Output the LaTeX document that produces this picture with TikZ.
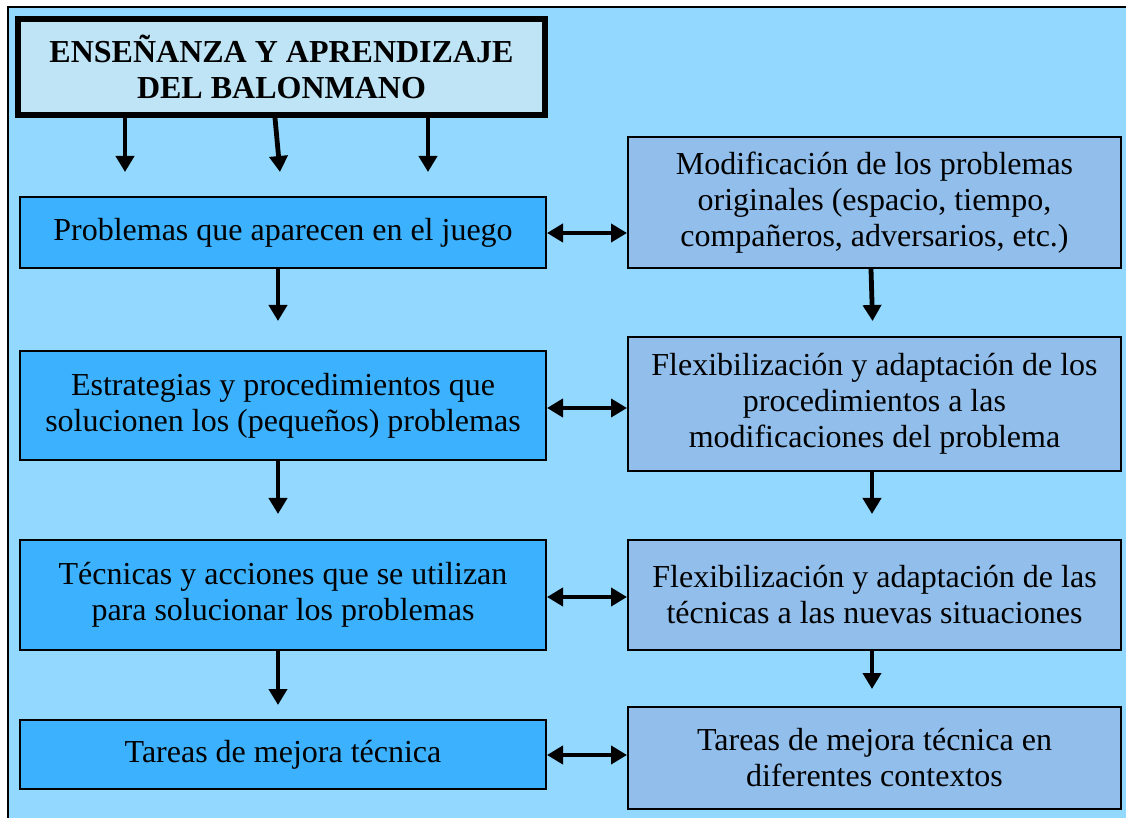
\documentclass[tikz,border=0pt]{standalone}
\usepackage{fontspec}
\setmainfont{Liberation Serif}
\usetikzlibrary{arrows.meta}
\definecolor{bgblue}{RGB}{147,217,255}
\definecolor{leftblue}{RGB}{60,178,255}
\definecolor{rightblue}{RGB}{145,190,235}
\definecolor{titleblue}{RGB}{190,228,245}
\tikzset{
  lbox/.style={draw=black, line width=1pt, fill=leftblue, minimum width=263pt, align=center, inner sep=0pt, font=\fontsize{16}{18}\selectfont},
  rbox/.style={draw=black, line width=1pt, fill=rightblue, minimum width=246.5pt, align=center, inner sep=0pt, font=\fontsize{16}{18}\selectfont},
  tbox/.style={draw=black, line width=3pt, fill=titleblue, minimum width=263.5pt, minimum height=48pt, align=center, inner sep=0pt, font=\fontsize{16}{18}\selectfont\bfseries},
  arr/.style={line width=2.4pt, -{Triangle[width=9pt,length=8pt]}},
  darr/.style={line width=2.4pt, {Triangle[width=9pt,length=8pt]}-{Triangle[width=9pt,length=8pt]}},
}
\begin{document}
\begin{tikzpicture}[x=0.5pt,y=-0.5pt]
\useasboundingbox (0,0) rectangle (1126,818);
\fill[bgblue] (8,7) rectangle (1126,818);
\draw[line width=1pt] (8,818) -- (8,7) -- (1126,7);

\node[tbox] (T) at (281.5,67) {ENSEÑANZA Y APRENDIZAJE\\DEL BALONMANO};

\node[lbox, minimum height=35.5pt] (L1) at (283,232.5) {Problemas que aparecen en el juego};
\node[lbox, minimum height=54.5pt] (L2) at (283,405.5) {Estrategias y procedimientos que\\solucionen los (pequeños) problemas};
\node[lbox, minimum height=55pt] (L3) at (283,595) {Técnicas y acciones que se utilizan\\para solucionar los problemas};
\node[lbox, minimum height=34.5pt] (L4) at (283,754.5) {Tareas de mejora técnica};

\node[rbox, minimum height=65.5pt] (R1) at (874.5,202.5) {Modificación de los problemas\\originales (espacio, tiempo,\\compañeros, adversarios, etc.)};
\node[rbox, minimum height=67pt] (R2) at (874.5,404) {Flexibilización y adaptación de los\\procedimientos a las\\modificaciones del problema};
\node[rbox, minimum height=55pt] (R3) at (874.5,595) {Flexibilización y adaptación de las\\técnicas a las nuevas situaciones};
\node[rbox, minimum height=51pt] (R4) at (874.5,758) {Tareas de mejora técnica en\\diferentes contextos};

\coordinate (e1) at (125,172);
\coordinate (e2) at (280,172);
\coordinate (e3) at (428,172);
\draw[arr] (T.south -| e1) -- (e1);
\draw[arr] (T.south -| 275,0) -- (e2);
\draw[arr] (T.south -| e3) -- (e3);

\draw[arr, shorten >=14.5pt] (L1.south -| 278,0) -- (L2.north -| 278,0);
\draw[arr, shorten >=12.5pt] (L2.south -| 278,0) -- (L3.north -| 278,0);
\draw[arr, shorten >=7pt] (L3.south -| 278,0) -- (L4.north -| 278,0);

\draw[arr, shorten >=7.5pt] (R1.south -| 871,0) -- (R2.north -| 873,0);
\draw[arr, shorten >=12.5pt] (R2.south -| 872,0) -- (R3.north -| 872,0);
\draw[arr, shorten >=8.5pt] (R3.south -| 872,0) -- (R4.north -| 872,0);

\draw[darr] (L1.east |- 0,233) -- (R1.west |- 0,233);
\draw[darr] (L2.east |- 0,408) -- (R2.west |- 0,408);
\draw[darr] (L3.east |- 0,597) -- (R3.west |- 0,597);
\draw[darr] (L4.east |- 0,755) -- (R4.west |- 0,755);
\end{tikzpicture}
\end{document}
